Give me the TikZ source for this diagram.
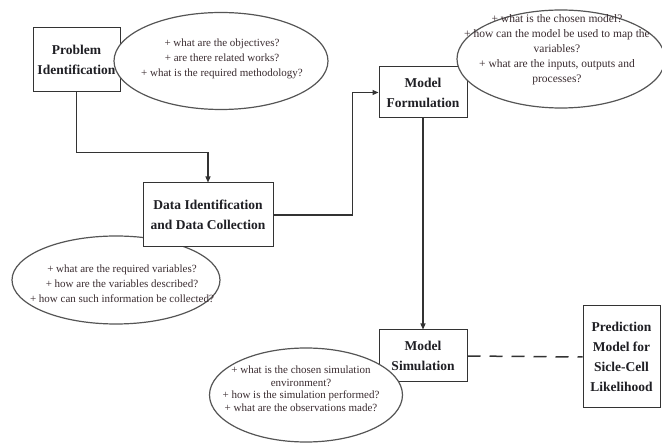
\documentclass[tikz,border=0pt]{standalone}
\usepackage{fontspec}
\setmainfont{Liberation Serif}
\usetikzlibrary{positioning, arrows.meta, shapes.geometric}
\definecolor{wire}{HTML}{333333}
\definecolor{rim}{HTML}{555555}
\definecolor{ink}{HTML}{1F1F24}
\definecolor{quest}{HTML}{3A2C30}

\begin{document}
\begin{tikzpicture}[x=1pt, y=-1pt,
    stage/.style={draw=wire, line width=1pt, fill=white, align=center, text=ink, inner sep=0pt,
                  font=\fontsize{13.5}{20}\selectfont\bfseries},
    bubble/.style={ellipse, draw=rim, line width=1.2pt, fill=white, inner sep=0pt},
    ask/.style={align=center, text=quest, inner sep=0pt, font=\fontsize{11}{15}\selectfont},
    link/.style={draw=wire, line width=1.1pt, -{Triangle[length=6pt, width=5pt]}}]
  \useasboundingbox (0,0) rectangle (662,446);
  % this one sits behind the data box
  \node[bubble, minimum width=208, minimum height=88] (q2) at (116,280) {};
  \node[ask] (t2) at (122,284) {+ what are the required variables?\\+ how are the variables described?\\+ how can such information be collected?};
  \foreach \n/\x/\y/\w/\h/\t in {prob/76.5/60/87/64/{Problem\\Identification},
                                data/208/215/130/64/{Data Identification\\and Data Collection},
                                form/423/92.5/88/51/{Model\\Formulation},
                                sim/423/356/88/52/{Model\\Simulation},
                                pred/621.5/357/77/102/{Prediction\\Model for\\Sicle-Cell\\Likelihood}} {
    \node[stage, minimum width=\w, minimum height=\h] (\n) at (\x,\y) {\t};
  }
  \draw[link] (prob.south) -- ++(0,60) -| (data.north);
  \draw[link] (data.east) -- ++(79,0) |- (form.west);
  \draw[link] (form.south) -- (sim.north);
  \draw[wire, line width=1.5pt, dash pattern=on 13pt off 9pt] (sim.east) -- (pred.west);
  % questions on top
  \node[bubble, minimum width=214, minimum height=97] (q1) at (221,61) {};
  \node[ask] (t1) at (222,59) {+ what are the objectives?\\+ are there related works?\\+ what is the required methodology?};
  \node[bubble, minimum width=208, minimum height=98] (q3) at (561,59) {};
  \node[ask, font=\fontsize{11.5}{15}\selectfont] (t3) at (557,50) {+ what is the chosen model?\\+ how can the model be used to map the\\variables?\\+ what are the inputs, outputs and\\processes?};
  \node[bubble, minimum width=193, minimum height=94] (q4) at (306,395) {};
  \node[ask, font=\fontsize{11}{12.5}\selectfont] (t4) at (301,389) {+ what is the chosen simulation\\environment?\\+ how is the simulation performed?\\+ what are the observations made?};
\end{tikzpicture}
\end{document}
